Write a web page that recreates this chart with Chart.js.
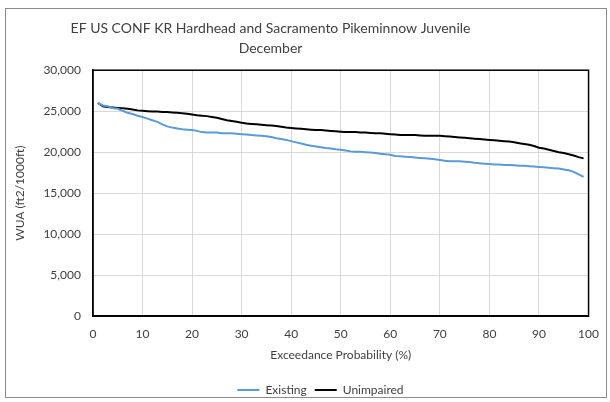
<!DOCTYPE html>
<html>
<head>
<meta charset="utf-8">
<script src="https://cdn.jsdelivr.net/npm/chart.js@4/dist/chart.umd.min.js"></script>
<style>
html,body{margin:0;padding:0;background:#fff;}
#wrap{position:relative;width:610px;height:402px;}
</style>
</head>
<body>
<div id="wrap"><canvas id="c" width="610" height="402"></canvas></div>
<script>
const titleLines = ["EF US CONF KR Hardhead and Sacramento Pikeminnow Juvenile", "December"];
const xTitle = "Exceedance Probability (%)";
const yTitle = "WUA (ft2/1000ft)";
const seriesNames = ["Existing", "Unimpaired"];

const exceedance = [1,2,3,4,5,6,7,8,9,10,11,12,13,14,15,16,17,18,19,20,21,22,23,24,25,26,27,28,29,30,31,32,33,34,35,36,37,38,39,40,41,42,43,44,45,46,47,48,49,50,51,52,53,54,55,56,57,58,59,60,61,62,63,64,65,66,67,68,69,70,71,72,73,74,75,76,77,78,79,80,81,82,83,84,85,86,87,88,89,90,91,92,93,94,95,96,97,98,99];

const existing = [26000,25700,25600,25400,25300,25050,24800,24650,24450,24300,
24100,23900,23700,23400,23150,23000,22900,22800,22750,22700,
22600,22450,22400,22400,22400,22300,22300,22300,22250,22200,
22150,22100,22050,22000,21950,21850,21700,21600,21500,21350,
21200,21050,20900,20800,20700,20600,20500,20450,20350,20300,
20200,20100,20050,20050,20000,19950,19900,19800,19750,19700,
19550,19500,19450,19400,19350,19300,19250,19200,19150,19050,
18950,18900,18900,18900,18850,18800,18700,18650,18600,18550,
18500,18500,18450,18450,18400,18350,18350,18300,18250,18200,
18150,18100,18050,18000,17900,17800,17600,17300,17000];

const unimpaired = [26000,25600,25500,25450,25400,25350,25300,25200,25100,25050,
25000,24950,24950,24900,24900,24850,24800,24750,24700,24600,
24500,24450,24400,24300,24200,24050,23900,23800,23700,23600,
23500,23450,23400,23350,23300,23250,23200,23100,23000,22950,
22900,22850,22800,22750,22700,22700,22650,22600,22550,22500,
22450,22450,22450,22400,22400,22350,22300,22300,22250,22200,
22150,22100,22100,22100,22100,22050,22000,22000,22000,22000,
21950,21900,21850,21800,21750,21700,21650,21600,21550,21500,
21450,21400,21350,21300,21200,21100,21000,20900,20750,20550,
20450,20300,20150,20000,19900,19750,19600,19400,19250];

const xMin = 0, xMax = 100, xStep = 10;
const yMin = 0, yMax = 30000, yStep = 5000;

const FONT = "Lato, 'Liberation Sans', sans-serif";
const TEXT = "#404040";

const frame = {
  id: 'frame',
  beforeDraw(chart) {
    const ctx = chart.ctx;
    ctx.save();
    ctx.strokeStyle = '#8c8c8c';
    ctx.lineWidth = 1;
    ctx.strokeRect(5.5, 8.5, 601, 389);
    ctx.restore();
  },
  afterDatasetsDraw(chart) {
    const a = chart.chartArea, ctx = chart.ctx;
    ctx.save();
    ctx.strokeStyle = '#000';
    ctx.lineWidth = 1.5;
    ctx.strokeRect(a.left, a.top, a.right - a.left, a.bottom - a.top);
    ctx.restore();
  },
  afterLayout(chart) {
    const t = chart.titleBlock;
    if (t) { t.left -= 78; }
    const l = chart.legend;
    if (l) { l.left += 22; }
  }
};

new Chart(document.getElementById('c'), {
  type: 'line',
  data: {
    datasets: [
      {
        label: seriesNames[0],
        data: exceedance.map((x, i) => ({x: x, y: existing[i]})),
        borderColor: '#5B9BD5',
        backgroundColor: '#5B9BD5',
        borderWidth: 2,
        pointRadius: 0,
        tension: 0
      },
      {
        label: seriesNames[1],
        data: exceedance.map((x, i) => ({x: x, y: unimpaired[i]})),
        borderColor: '#000000',
        backgroundColor: '#000000',
        borderWidth: 2,
        pointRadius: 0,
        tension: 0
      }
    ]
  },
  options: {
    responsive: false,
    animation: false,
    devicePixelRatio: 1,
    layout: { padding: { left: 13, right: 4, top: 15, bottom: -4 } },
    plugins: {
      title: {
        display: true,
        text: titleLines,
        color: TEXT,
        font: { family: FONT, size: 14, weight: 'normal', lineHeight: 1.4 },
        padding: { top: 4, bottom: 12 }
      },
      legend: {
        position: 'bottom',
        labels: {
          color: TEXT,
          font: { family: FONT, size: 12 },
          usePointStyle: true,
          pointStyle: 'line',
          pointStyleWidth: 22,
          boxHeight: 12,
          padding: 8
        }
      },
      tooltip: { enabled: false }
    },
    scales: {
      x: {
        type: 'linear',
        min: xMin, max: xMax,
        ticks: { stepSize: xStep, color: TEXT, font: { family: FONT, size: 12 }, padding: 11 },
        grid: { color: '#d9d9d9', drawTicks: false },
        border: { color: '#000', width: 1.5 },
        title: { display: true, text: xTitle, color: TEXT, font: { family: FONT, size: 12 }, padding: { top: -5, bottom: 14 } }
      },
      y: {
        min: yMin, max: yMax,
        ticks: { stepSize: yStep, color: TEXT, font: { family: FONT, size: 12 }, padding: 12,
          callback: v => v.toLocaleString('en-US') },
        grid: { color: '#d9d9d9', drawTicks: false },
        border: { color: '#000', width: 1.5 },
        title: { display: true, text: yTitle, color: TEXT, font: { family: FONT, size: 12 }, padding: { top: 0, bottom: 4 } }
      }
    }
  },
  plugins: [frame]
});
</script>
</body>
</html>
